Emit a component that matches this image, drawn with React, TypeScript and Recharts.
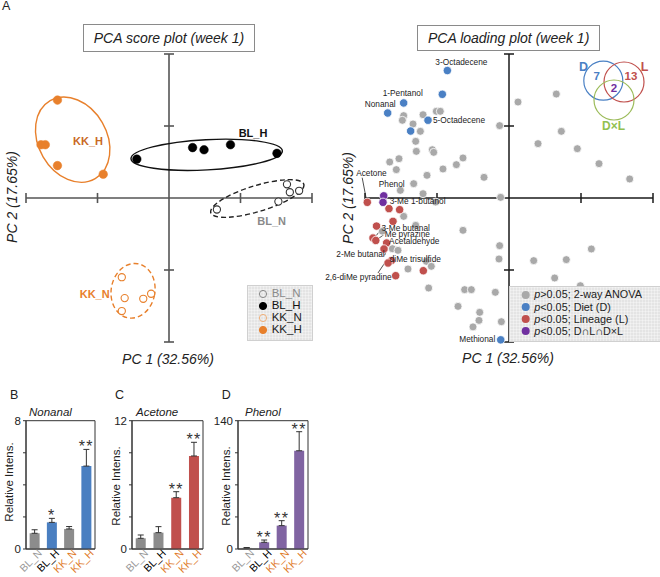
import React from 'react';
import {
  ScatterChart, Scatter, XAxis, YAxis, ReferenceLine, ReferenceDot,
  ComposedChart, Bar, Cell, ErrorBar, Line, LabelList, ReferenceArea,
} from 'recharts';

const FONT = '"Liberation Sans", Arial, Helvetica, sans-serif';

const ORANGE = '#E8802C';
const ORANGE_DARK = '#C9691F';
const GRAY_PT = '#a9a9a9';
const BLUE = '#4a80c4';
const RED = '#c0504d';
const PURPLE = '#7030a0';
const BAR_GRAY = '#8c8c8c';
const BAR_BLUE = '#4a7fc1';
const BAR_RED = '#c0504d';
const BAR_PURPLE = '#8064a2';

// ---------------- PCA score plot (week 1) ----------------
const scoreBLN = [
  { x: 1.65, y: 0.19 }, { x: 1.69, y: 0.08 }, { x: 1.82, y: 0.10 }, { x: 1.53, y: -0.05 }, { x: 0.67, y: -0.16 },
];
const scoreBLH = [
  { x: -0.45, y: 0.54 }, { x: 0.33, y: 0.70 }, { x: 0.49, y: 0.67 }, { x: 0.86, y: 0.74 }, { x: 1.51, y: 0.62 },
];
const scoreKKN = [
  { x: -0.66, y: -1.10 }, { x: -0.62, y: -1.39 }, { x: -0.36, y: -1.40 }, { x: -0.25, y: -1.33 }, { x: -0.66, y: -1.57 },
];
const scoreKKH = [
  { x: -1.56, y: 1.36 }, { x: -1.79, y: 0.74 }, { x: -1.73, y: 0.74 }, { x: -1.56, y: 0.45 }, { x: -0.92, y: 0.33 },
];
const scoreEllipses = [
  { group: 'KK_H', cx: -1.347, cy: 0.81, a: 0.63, b: 0.475, angle: 60 },
  { group: 'BL_H', cx: 0.527, cy: 0.60, a: 1.06, b: 0.21, angle: -3 },
  { group: 'BL_N', cx: 1.235, cy: -0.007, a: 0.68, b: 0.18, angle: -17 },
  { group: 'KK_N', cx: -0.503, cy: -1.289, a: 0.306, b: 0.382, angle: 10 },
];
const scoreGroupLabels = [
  { group: 'KK_H', x: -1.133, y: 0.796, anchor: 'middle' },
  { group: 'BL_H', x: 1.175, y: 0.903, anchor: 'middle' },
  { group: 'BL_N', x: 1.436, y: -0.315, anchor: 'middle' },
  { group: 'KK_N', x: -0.83, y: -1.333, anchor: 'end' },
];
const scoreLegend = ['BL_N', 'BL_H', 'KK_N', 'KK_H'];
const axisTicks = [-2, -1, 1, 2];

const groupStyle: Record<string, any> = {
  BL_N: { fill: '#fff', stroke: '#333', dash: '5 3', line: '#222', label: '#8a8a8a', legendText: '#8a8a8a', legendStroke: '#8a8a8a' },
  BL_H: { fill: '#000', stroke: '#000', dash: undefined, line: '#111', label: '#111', legendText: '#111', legendStroke: '#000' },
  KK_N: { fill: '#fff', stroke: ORANGE, dash: '5 3', line: ORANGE, label: ORANGE, legendText: '#222', legendStroke: '#f0b07a' },
  KK_H: { fill: ORANGE, stroke: ORANGE, dash: undefined, line: ORANGE, label: ORANGE_DARK, legendText: '#222', legendStroke: ORANGE },
};

// ---------------- PCA loading plot (week 1) ----------------
const loadingNS = [
  [0.125, 1.333], [0.657, 1.444], [-1.009, 1.204], [-0.954, 1.204], [-1.463, 1.144], [-1.481, 1.079],
  [-1.194, 1.157], [-1.333, 1.028], [-1.231, 0.926], [-0.130, 1.005], [0.727, 0.926], [-1.296, 0.787],
  [-1.065, 0.671], [-1.046, 0.634], [-1.287, 0.648], [0.403, 0.755], [0.949, 0.685], [-1.657, 0.5],
  [-1.528, 0.546], [-0.639, 0.556], [-0.731, 0.463], [-0.917, 0.403], [-1.565, 0.394], [-1.139, 0.315],
  [-0.347, 0.287], [1.25, 0.477], [1.676, 0.264], [-1.324, 0.199], [-1.509, 0.106], [-1.194, 0.06],
  [-0.116, 0.009], [-1.019, -0.056], [-1.463, -0.255], [-1.296, -0.380], [-0.639, -0.449], [-0.130, -0.662],
  [1.144, -0.708], [-1.62, -0.704], [-1.542, -0.727], [-0.139, -0.847], [0.343, -0.870], [0.796, -0.856],
  [-1.148, -0.880], [-1.079, -0.949], [-1.403, -0.986], [0.634, -1.111], [0.991, -1.218], [-1.116, -1.25],
  [-0.616, -1.273], [-0.523, -1.273], [-0.19, -1.31], [-0.708, -1.505], [-0.407, -1.588], [-0.417, -1.70],
  [-0.106, -1.718], [-0.5, -1.79], [-1.76, -0.46],
].map(([x, y]) => ({ x, y }));
const loadingDiet = [
  [-0.856, 1.77], [-0.926, 1.44], [-1.463, 1.32], [-1.685, 1.18], [-1.125, 1.08], [-1.366, 0.93], [-0.115, -1.97],
].map(([x, y]) => ({ x, y }));
const loadingLineage = [
  [-1.968, -0.06], [-1.667, -0.148], [-1.519, -0.162], [-1.611, -0.324], [-1.84, -0.39], [-1.889, -0.556],
  [-1.85, -0.59], [-1.70, -0.625], [-1.736, -0.708], [-1.634, -0.870], [-1.68, -0.903], [-1.574, -1.079], [-1.19, -1.01],
].map(([x, y]) => ({ x, y }));
const loadingAll = [[-1.74, 0.03], [-1.75, -0.06]].map(([x, y]) => ({ x, y }));

const loadingLabels = [
  { text: '3-Octadecene', x: -0.661, y: 1.889, anchor: 'middle' },
  { text: '1-Pentanol', x: -1.476, y: 1.453, anchor: 'middle' },
  { text: 'Nonanal', x: -1.574, y: 1.30, anchor: 'end' },
  { text: '5-Octadecene', x: -1.056, y: 1.078, anchor: 'start' },
  { text: 'Acetone', x: -1.911, y: 0.347, anchor: 'middle' },
  { text: 'Phenol', x: -1.629, y: 0.199, anchor: 'middle' },
  { text: '3-Me 1-butanol', x: -1.657, y: -0.047, anchor: 'start' },
  { text: '3-Me butanal', x: -1.772, y: -0.41, anchor: 'start' },
  { text: 'Me pyrazine', x: -1.726, y: -0.495, anchor: 'start' },
  { text: 'Acetaldehyde', x: -1.665, y: -0.595, anchor: 'start' },
  { text: '2-Me butanal', x: -1.726, y: -0.778, anchor: 'end' },
  { text: 'diMe trisulfide', x: -1.657, y: -0.847, anchor: 'start' },
  { text: '2,6-diMe pyradine', x: -1.63, y: -1.097, anchor: 'end' },
  { text: 'Methional', x: -0.19, y: -1.954, anchor: 'end' },
];
const loadingLeaders = [
  [{ x: -2.039, y: 0.282 }, { x: -1.983, y: -0.01 }],
  [{ x: -1.782, y: -0.44 }, { x: -1.886, y: -0.579 }],
  [{ x: -1.74, y: -0.51 }, { x: -1.85, y: -0.59 }],
  [{ x: -1.727, y: -0.796 }, { x: -1.685, y: -0.685 }],
  [{ x: -1.82, y: -1.042 }, { x: -1.712, y: -0.881 }],
];
const loadingLegend = [
  { pre: '>0.05; 2-way ANOVA', color: GRAY_PT },
  { pre: '<0.05; Diet (D)', color: BLUE },
  { pre: '<0.05; Lineage (L)', color: RED },
  { pre: '<0.05; D∩L∩D×L', color: PURPLE },
];
const vennCounts = [7, 13, 2];

// ---------------- Bar charts ----------------
const barCats = ['BL_N', 'BL_H', 'KK_N', 'KK_H'];
const catColors = ['#9a9a9a', '#000000', '#E07B2A', '#E07B2A'];

const nonanalMean = [0.98, 1.66, 1.25, 5.17];
const nonanalErr = [0.22, 0.25, 0.15, 1.04];
const nonanalSig = ['', '*', '', '**'];

const acetoneMean = [1.0, 1.53, 4.8, 8.7];
const acetoneErr = [0.31, 0.56, 0.56, 1.28];
const acetoneSig = ['', '', '**', '**'];

const phenolMean = [1.2, 7.3, 25.5, 107.2];
const phenolErr = [0.4, 2.5, 5.4, 20.8];
const phenolSig = ['', '**', '**', '**'];

const SX = 286 / 4;
const SY = 288 / 4;

const circleShape = (r: number, fill: string, stroke: string, sw: number) => (p: any) => (
  <circle cx={p.cx} cy={p.cy} r={r} fill={fill} stroke={stroke} strokeWidth={sw} />
);

function ScorePlot() {
  const ax = '#555';
  return (
    <ScatterChart width={330} height={380} margin={{ top: 54, right: 18, bottom: 38, left: 26 }}>
      <XAxis type="number" dataKey="x" domain={[-2, 2]} hide />
      <YAxis type="number" dataKey="y" domain={[-2, 2]} hide />
      <ReferenceLine x={0} stroke={ax} strokeWidth={1.6} />
      <ReferenceLine y={0} stroke={ax} strokeWidth={1.6} />
      {axisTicks.map((t) => (
        <ReferenceLine key={'tx' + t} segment={[{ x: t, y: -0.07 }, { x: t, y: 0.07 }]} stroke={ax} strokeWidth={1.6} ifOverflow="visible" />
      ))}
      {axisTicks.map((t) => (
        <ReferenceLine key={'ty' + t} segment={[{ x: -0.07, y: t }, { x: 0.07, y: t }]} stroke={ax} strokeWidth={1.6} ifOverflow="visible" />
      ))}
      {scoreEllipses.map((e) => (
        <ReferenceDot
          key={'el' + e.group}
          x={e.cx}
          y={e.cy}
          r={0}
          ifOverflow="visible"
          shape={(p: any) => (
            <ellipse
              cx={p.cx}
              cy={p.cy}
              rx={e.a * SX}
              ry={e.b * SY}
              transform={`rotate(${e.angle} ${p.cx} ${p.cy})`}
              fill="none"
              stroke={groupStyle[e.group].line}
              strokeWidth={1.4}
              strokeDasharray={groupStyle[e.group].dash}
            />
          )}
        />
      ))}
      <Scatter data={scoreKKH} isAnimationActive={false} shape={circleShape(4.3, ORANGE, ORANGE, 0.5)} />
      <Scatter data={scoreBLH} isAnimationActive={false} shape={circleShape(4.3, '#000', '#000', 0.5)} />
      <Scatter data={scoreBLN} isAnimationActive={false} shape={circleShape(3.6, '#fff', '#333', 1.1)} />
      <Scatter data={scoreKKN} isAnimationActive={false} shape={circleShape(3.6, '#fff', ORANGE, 1.1)} />
      {scoreGroupLabels.map((l) => (
        <ReferenceDot
          key={'lb' + l.group}
          x={l.x}
          y={l.y}
          r={0}
          ifOverflow="visible"
          shape={(p: any) => (
            <text x={p.cx} y={p.cy} textAnchor={l.anchor as any} dominantBaseline="central" fontSize={11} fontWeight="bold" fill={groupStyle[l.group].label} fontFamily={FONT}>
              {l.group}
            </text>
          )}
        />
      ))}
    </ScatterChart>
  );
}

function LoadingPlot() {
  const ax = '#1a1a1a';
  return (
    <ScatterChart width={350} height={380} margin={{ top: 54, right: 7, bottom: 38, left: 55 }}>
      <XAxis type="number" dataKey="x" domain={[-2, 2]} hide />
      <YAxis type="number" dataKey="y" domain={[-2, 2]} hide />
      <ReferenceLine x={0} stroke={ax} strokeWidth={1.5} />
      <ReferenceLine y={0} stroke={ax} strokeWidth={1.5} />
      {axisTicks.map((t) => (
        <ReferenceLine key={'tx' + t} segment={[{ x: t, y: -0.07 }, { x: t, y: 0.07 }]} stroke={ax} strokeWidth={1.5} ifOverflow="visible" />
      ))}
      {axisTicks.map((t) => (
        <ReferenceLine key={'ty' + t} segment={[{ x: -0.07, y: t }, { x: 0.07, y: t }]} stroke={ax} strokeWidth={1.5} ifOverflow="visible" />
      ))}
      <Scatter data={loadingNS} isAnimationActive={false} shape={circleShape(4, GRAY_PT, '#fff', 0.8)} />
      <Scatter data={loadingDiet} isAnimationActive={false} shape={circleShape(4.2, BLUE, '#fff', 0.8)} />
      <Scatter data={loadingLineage} isAnimationActive={false} shape={circleShape(4.2, RED, '#fff', 0.8)} />
      <Scatter data={loadingAll} isAnimationActive={false} shape={circleShape(4.2, PURPLE, '#fff', 0.8)} />
      {loadingLeaders.map((s, i) => (
        <ReferenceLine key={'ld' + i} segment={s as any} stroke="#222" strokeWidth={0.8} ifOverflow="visible" />
      ))}
      {loadingLabels.map((l) => (
        <ReferenceDot
          key={'ll' + l.text}
          x={l.x}
          y={l.y}
          r={0}
          ifOverflow="visible"
          shape={(p: any) => (
            <text x={p.cx} y={p.cy} textAnchor={l.anchor as any} dominantBaseline="central" fontSize={8.3} fill="#222" fontFamily={FONT}>
              {l.text}
            </text>
          )}
        />
      ))}
    </ScatterChart>
  );
}

const BarTick = (props: any) => {
  const { x, y, payload } = props;
  const i = barCats.indexOf(payload.value);
  return (
    <g transform={`translate(${x + 8},${y + 5})`}>
      <text x={0} y={0} textAnchor="end" transform="rotate(-45)" fontSize={10.5} fill={catColors[i]} fontFamily={FONT}>
        {payload.value}
      </text>
    </g>
  );
};

function BarPanel({ mean, err, sig, colors, max, ticks, width }: any) {
  const rows = barCats.map((c, i) => ({ cat: c, m: mean[i], e: [0, err[i]], top: mean[i] + err[i], sig: sig[i] }));
  return (
    <ComposedChart width={width} height={167} data={rows} margin={{ top: 10.7, right: 2, bottom: 0, left: 0 }} barCategoryGap="21%">
      <XAxis dataKey="cat" height={28} tickLine={false} tickSize={0} tickMargin={0} axisLine={{ stroke: '#333' }} tick={<BarTick />} interval={0} />
      <YAxis
        type="number"
        domain={[0, max]}
        ticks={ticks}
        width={26}
        tickSize={3}
        tickMargin={2}
        allowDataOverflow
        axisLine={{ stroke: '#333' }}
        tickLine={{ stroke: '#333' }}
        tick={{ fontSize: 11.5, fill: '#222', fontFamily: FONT }}
        tickFormatter={(v: number) => (v === 0 || v === max ? String(v) : '')}
      />
      <ReferenceArea y1={0} y2={max} fill="none" stroke="#333" strokeWidth={1} ifOverflow="visible" />
      <Bar dataKey="m" isAnimationActive={false}>
        {rows.map((r, i) => (
          <Cell key={r.cat} fill={colors[i]} />
        ))}
        <ErrorBar dataKey="e" width={3} stroke="#333" strokeWidth={1} direction="y" />
      </Bar>
      <Line dataKey="top" stroke="none" dot={false} activeDot={false} isAnimationActive={false}>
        <LabelList dataKey="sig" position="top" offset={-3} style={{ fontSize: 16, fill: '#333', letterSpacing: 1.5, fontFamily: FONT }} />
      </Line>
    </ComposedChart>
  );
}

const abs = (left: number, top: number, extra: any = {}) => ({ position: 'absolute' as const, left, top, ...extra });

function RotLabel({ x, y, text, size, italic }: any) {
  return (
    <div style={abs(x, y, { transform: 'translate(-50%,-50%) rotate(-90deg)', whiteSpace: 'nowrap', fontSize: size, fontStyle: italic ? 'italic' : 'normal', lineHeight: 1, color: '#222' })}>
      {text}
    </div>
  );
}
function CenterLabel({ x, y, text, size, italic }: any) {
  return (
    <div style={abs(x, y, { transform: 'translate(-50%,-50%)', whiteSpace: 'nowrap', fontSize: size, fontStyle: italic ? 'italic' : 'normal', lineHeight: 1, color: '#222' })}>
      {text}
    </div>
  );
}

const legendBg = {
  backgroundColor: '#e4e4e4',
  backgroundImage: 'linear-gradient(rgba(255,255,255,0.35) 1px, transparent 1px), linear-gradient(90deg, rgba(255,255,255,0.35) 1px, transparent 1px)',
  backgroundSize: '3px 3px',
  border: '1px solid #d0d0d0',
  boxSizing: 'border-box' as const,
};

export default function App() {
  return (
    <div style={{ position: 'absolute', left: 0, top: 0, width: 660, height: 577, background: '#fff', fontFamily: FONT, overflow: 'hidden', color: '#222' }}>
      <div style={abs(2, 0, { fontSize: 12.5, lineHeight: 1 })}>A</div>

      <div style={abs(0, 0)}><ScorePlot /></div>
      <div style={abs(310, 0)}><LoadingPlot /></div>

      {/* titles */}
      <div style={abs(82.7, 24.3, { width: 172.6, height: 28, border: '1px solid #8a8a8a', boxSizing: 'border-box', display: 'flex', alignItems: 'center', justifyContent: 'center', fontStyle: 'italic', fontSize: 14, background: '#fff' })}>
        PCA score plot (week 1)
      </div>
      <div style={abs(417.3, 25, { width: 182.7, height: 25.7, border: '1px solid #8a8a8a', boxSizing: 'border-box', display: 'flex', alignItems: 'center', justifyContent: 'center', fontStyle: 'italic', fontSize: 14, background: '#fff' })}>
        PCA loading plot (week 1)
      </div>

      <RotLabel x={12} y={197} text="PC 2 (17.65%)" size={14} italic />
      <CenterLabel x={168} y={359} text="PC 1 (32.56%)" size={14} italic />
      <RotLabel x={348} y={198} text="PC 2 (17.65%)" size={14} italic />
      <CenterLabel x={508} y={358} text="PC 1 (32.56%)" size={14} italic />

      {/* score legend */}
      <div style={abs(246.7, 285, { width: 66, height: 56, ...legendBg })}>
        {scoreLegend.map((g, i) => (
          <div key={g} style={abs(0, 2 + i * 12, { height: 12, display: 'flex', alignItems: 'center', fontSize: 11.5, lineHeight: 1 })}>
            <svg width={24} height={12} style={{ display: 'block' }}>
              <circle cx={15} cy={6} r={3.6} fill={groupStyle[g].fill === '#fff' ? 'none' : groupStyle[g].fill} stroke={groupStyle[g].legendStroke} strokeWidth={1} />
            </svg>
            <span style={{ color: groupStyle[g].legendText }}>{g}</span>
          </div>
        ))}
      </div>

      {/* loading legend */}
      <div style={abs(509.3, 285.7, { width: 152, height: 56, ...legendBg })}>
        {loadingLegend.map((l, i) => (
          <div key={l.pre} style={abs(0, 2.2 + i * 12.2, { height: 12, display: 'flex', alignItems: 'center', fontSize: 10.8, lineHeight: 1, whiteSpace: 'nowrap' })}>
            <svg width={24} height={12} style={{ display: 'block' }}>
              <circle cx={15.7} cy={6} r={4} fill={l.color} />
            </svg>
            <span><i>p</i>{l.pre}</span>
          </div>
        ))}
      </div>

      {/* Venn diagram */}
      <svg width={90} height={90} style={abs(570, 50)}>
        <g transform="translate(-570,-50)" fontFamily={FONT} fontWeight="bold" textAnchor="middle" dominantBaseline="central">
          <circle cx={603.3} cy={80.7} r={19.5} fill="none" stroke={BLUE} strokeWidth={1.2} />
          <circle cx={624} cy={82} r={20} fill="none" stroke={RED} strokeWidth={1.2} />
          <circle cx={614} cy={100} r={20} fill="none" stroke="#9bbb59" strokeWidth={1.2} />
          <text x={583.5} y={67} fontSize={12.5} fill={BLUE}>D</text>
          <text x={644.5} y={67} fontSize={12.5} fill={RED}>L</text>
          <text x={596.7} y={76} fontSize={11.5} fill={BLUE}>{vennCounts[0]}</text>
          <text x={631} y={76} fontSize={11.5} fill={RED}>{vennCounts[1]}</text>
          <text x={614} y={88} fontSize={11.5} fill={PURPLE}>{vennCounts[2]}</text>
          <text x={613.5} y={126} fontSize={12} fill="#92c050">D×L</text>
        </g>
      </svg>

      {/* bar panels */}
      <div style={abs(10, 389, { fontSize: 12.5, lineHeight: 1 })}>B</div>
      <div style={abs(115, 389, { fontSize: 12.5, lineHeight: 1 })}>C</div>
      <div style={abs(221.7, 389, { fontSize: 12.5, lineHeight: 1 })}>D</div>
      <div style={abs(29, 407, { fontSize: 11.5, fontStyle: 'italic', lineHeight: 1 })}>Nonanal</div>
      <div style={abs(136, 407, { fontSize: 11.5, fontStyle: 'italic', lineHeight: 1 })}>Acetone</div>
      <div style={abs(245, 407, { fontSize: 11.5, fontStyle: 'italic', lineHeight: 1 })}>Phenol</div>

      <div style={abs(0, 410)}>
        <BarPanel mean={nonanalMean} err={nonanalErr} sig={nonanalSig} colors={[BAR_GRAY, BAR_BLUE, BAR_GRAY, BAR_BLUE]} max={8} ticks={[0, 2, 4, 6, 8]} width={97} />
      </div>
      <div style={abs(105.7, 410)}>
        <BarPanel mean={acetoneMean} err={acetoneErr} sig={acetoneSig} colors={[BAR_GRAY, BAR_GRAY, BAR_RED, BAR_RED]} max={12} ticks={[0, 3, 6, 9, 12]} width={99} />
      </div>
      <div style={abs(212.3, 410)}>
        <BarPanel mean={phenolMean} err={phenolErr} sig={phenolSig} colors={[BAR_GRAY, BAR_PURPLE, BAR_PURPLE, BAR_PURPLE]} max={140} ticks={[0, 35, 70, 105, 140]} width={98} />
      </div>

      <RotLabel x={10} y={482} text="Relative Intens." size={11.5} />
      <RotLabel x={117} y={486} text="Relative Intens." size={11.5} />
      <RotLabel x={227} y={486} text="Relative Intens." size={11.5} />
    </div>
  );
}
